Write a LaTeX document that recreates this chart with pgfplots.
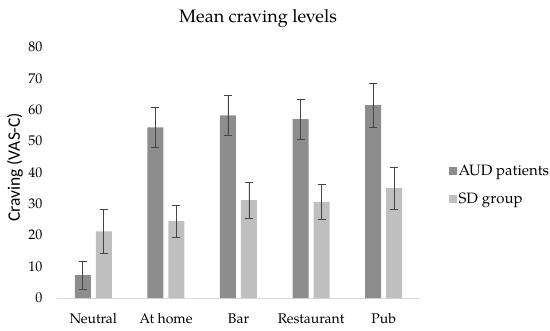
\documentclass[border=0pt]{standalone}
\usepackage{fontspec}
\setmainfont{TeX Gyre Pagella}
\newfontfamily\carlito{Carlito}
\usepackage{pgfplots}
\pgfplotsset{compat=1.18}
\definecolor{aud}{RGB}{141,141,141}
\definecolor{sdg}{RGB}{191,191,191}
\definecolor{errc}{RGB}{70,70,70}
\definecolor{axc}{RGB}{217,217,217}
\begin{document}
\begin{tikzpicture}
\useasboundingbox (0,0) rectangle (550pt,330pt);
\node[font=\fontsize{18}{21}\selectfont, anchor=base] at (258pt,307pt) {Mean craving levels};
\begin{axis}[
  at={(57pt,32pt)}, anchor=south west,
  scale only axis, width=363pt, height=251pt,
  ybar=5pt, bar width=16pt,
  xmin=-0.5, xmax=4.5, ymin=0, ymax=80,
  xtick={0,1,2,3,4},
  xticklabels={Neutral,At home,Bar,Restaurant,Pub},
  ytick={0,10,...,80},
  major tick length=0pt,
  axis x line*=bottom, axis y line*=left,
  x axis line style={draw=axc, line width=0.8pt},
  y axis line style={draw=none},
  ticklabel style={font=\fontsize{14}{16}\selectfont},
  /pgf/number format/assume math mode=true,
  xticklabel style={yshift=-12pt},
  yticklabel style={xshift=-11pt},
  ylabel={\carlito Craving (VAS-C)},
  ylabel style={font=\fontsize{17.5}{20}\selectfont, at={(axis description cs:-0.116,0.52)}, anchor=center},
  legend style={at={(1.07,0.45)}, anchor=west, draw=none, fill=none,
    font=\fontsize{15}{18}\selectfont, row sep=12pt,
    /tikz/every even column/.append style={column sep=2pt}},
  legend cell align=left,
  legend image code/.code={\fill[#1] (0pt,-4pt) rectangle (8pt,4pt);},
  error bars/y dir=both, error bars/y explicit,
  error bars/error bar style={color=errc, line width=0.6pt},
  error bars/error mark options={rotate=90, mark size=4pt, color=errc, line width=0.6pt},
]
\addplot[fill=aud, draw=none] coordinates {
  (0,7.3) +- (0,4.4)
  (1,54.4) +- (0,6.4)
  (2,58.2) +- (0,6.4)
  (3,57.0) +- (0,6.3)
  (4,61.5) +- (0,7.0)
};
\addplot[fill=sdg, draw=none] coordinates {
  (0,21.2) +- (0,7.0)
  (1,24.5) +- (0,5.0)
  (2,31.2) +- (0,5.8)
  (3,30.6) +- (0,5.5)
  (4,35.1) +- (0,6.7)
};
\legend{AUD patients, SD group}
\end{axis}
\end{tikzpicture}
\end{document}
